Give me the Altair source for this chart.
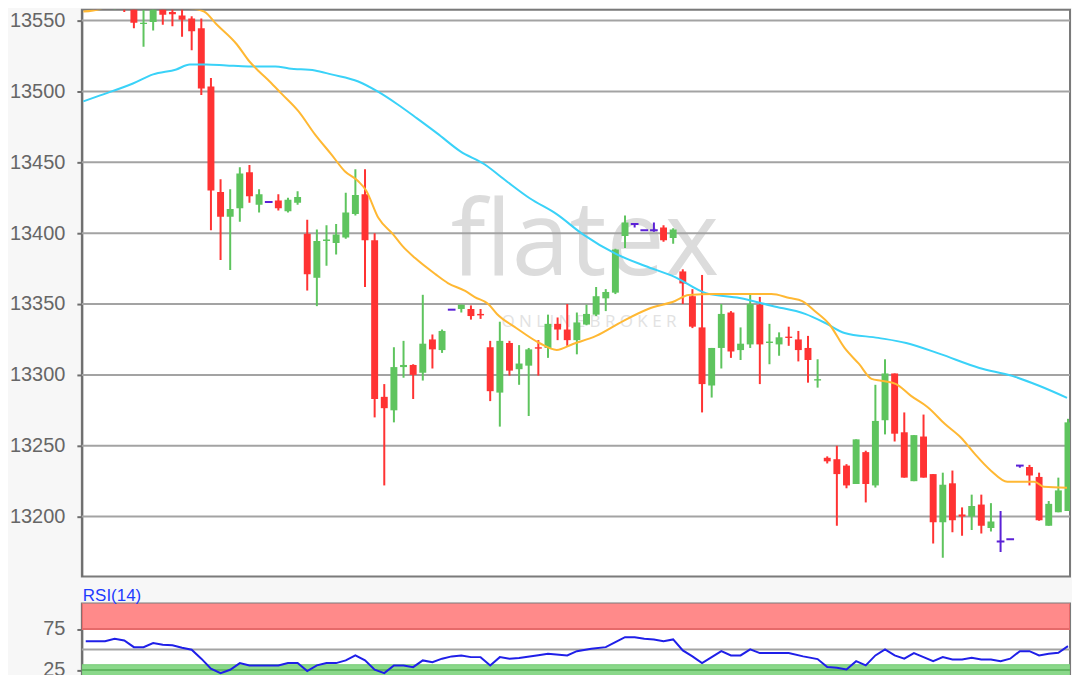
import altair as alt
import pandas as pd

# ---------------- candle data (index 0..102) ----------------
opens = [13559, 13560, 13561.5, 13560, 13570, 13566, 13547.5, 13549, 13565, 13556,
         13553.5, 13551.5, 13544.5, 13503.5, 13429, 13411.5, 13417.5, 13443, 13420, 13422,
         13423, 13415.5, 13421.5, 13399.5, 13368.5, 13394.5, 13393, 13397, 13413.5, 13427.5,
         13395, 13284.5, 13275, 13305.5, 13307, 13301.5, 13325, 13317.5, 13346, 13346.5,
         13346.5, 13343, 13319.5, 13287.5, 13322.5, 13304, 13306.5, 13319.5, 13319, 13336,
         13332, 13324.5, 13335.5, 13342.5, 13354, 13358, 13398, 13406.5, 13402, 13402,
         13404, 13396.5, 13373, 13355.5, 13333.5, 13292.5, 13319, 13344, 13317.5, 13321.5,
         13349.5, 13322.5, 13321.5, 13327, 13325, 13319, 13296, 13241.5, 13240.5, 13236,
         13223, 13245.5, 13222, 13268, 13301, 13259.5, 13225, 13256.5, 13230, 13196,
         13223.5, 13201.5, 13200, 13208.5, 13192, 13182.5, 13184, 13236, 13235, 13228,
         13193.5, 13203, 13204]
highs = [13559, 13562, 13563, 13567, 13572, 13570, 13557.5, 13566, 13568, 13566,
         13565, 13553, 13551.5, 13509.5, 13438, 13431, 13446.5, 13448, 13431, 13422,
         13427.5, 13425, 13429.5, 13409.5, 13402.5, 13405.5, 13406.5, 13428.5, 13445, 13445,
         13400, 13293.5, 13319.5, 13324, 13307.5, 13356.5, 13328.5, 13332, 13346, 13349.5,
         13349, 13346.5, 13324, 13337.5, 13324, 13321, 13319, 13324.5, 13342.5, 13340.5,
         13350, 13344, 13349.5, 13362, 13360.5, 13389, 13412.5, 13406.5, 13402, 13407.5,
         13405.5, 13403.5, 13374.5, 13360.5, 13370.5, 13319, 13350, 13345, 13333.5, 13357,
         13355, 13336, 13330, 13334, 13331, 13327.5, 13311, 13242.5, 13250, 13237,
         13254.5, 13246.5, 13293, 13311, 13301, 13273.5, 13257.5, 13272, 13230, 13231,
         13232.5, 13206.5, 13215.5, 13215.5, 13209.5, 13204, 13184, 13236, 13236.5, 13231,
         13211, 13227.5, 13269]
lows = [13559, 13557, 13558, 13557.5, 13556, 13544.5, 13531.5, 13543, 13547, 13546,
        13538.5, 13529, 13497.5, 13402, 13381, 13374, 13408, 13421.5, 13414.5, 13422,
        13416, 13414.5, 13420, 13359.5, 13348.5, 13377, 13385, 13396, 13412.5, 13362,
        13270, 13222, 13266.5, 13298, 13283, 13296, 13304.5, 13315.5, 13346, 13344,
        13339, 13339.5, 13281.5, 13263.5, 13299.5, 13293, 13271, 13299.5, 13312, 13324.5,
        13320.5, 13314.5, 13335, 13341.5, 13345, 13357, 13389.5, 13404, 13402, 13401,
        13394, 13392.5, 13350, 13333, 13273.5, 13284, 13304.5, 13312, 13310.5, 13319,
        13293.5, 13307.5, 13313.5, 13320.5, 13309.5, 13294.5, 13291, 13237.5, 13193.5, 13220,
        13223, 13210, 13220.5, 13258, 13253, 13227.5, 13225, 13227.5, 13181, 13171,
        13189, 13186.5, 13190.5, 13188, 13189.5, 13175, 13184, 13234.5, 13222, 13197,
        13193.5, 13203, 13204]
closes = [13559, 13560, 13558.5, 13565, 13564, 13548.5, 13548.5, 13560, 13554, 13554.5,
          13550.5, 13542.5, 13502, 13430, 13411.5, 13417, 13442, 13426, 13427.5, 13422,
          13417.5, 13423.5, 13425.5, 13371, 13394.5, 13395.5, 13399, 13414.5, 13427, 13395,
          13283, 13276.5, 13305.5, 13307, 13300, 13322, 13318, 13331, 13346, 13349.5,
          13341.5, 13342, 13288.5, 13324, 13303, 13308, 13318, 13318.5, 13336, 13332,
          13324.5, 13337, 13343, 13355.5, 13358.5, 13388.5, 13407.5, 13406.5, 13402, 13402,
          13395, 13402.5, 13364.5, 13334, 13293.5, 13319, 13343, 13316.5, 13322, 13350,
          13321.5, 13323.5, 13326.5, 13326, 13317.5, 13310.5, 13297, 13239, 13230, 13222,
          13254.5, 13223, 13267.5, 13301, 13258.5, 13227.5, 13257.5, 13227.5, 13196, 13222.5,
          13197.5, 13200, 13207.5, 13193.5, 13196.5, 13182.5, 13184, 13236, 13229, 13197.5,
          13209, 13218.5, 13266.5]

# ---------------- moving averages ----------------
fast_idx = [-0.25, 1.5, 3.3, 4.5, 6.0, 7.8, 10.9, 12.3, 13.6, 15.7, 17.0, 18.0, 19.1, 20.3,
            22.1, 23.8, 25.5, 26.9, 28.3, 29.1, 30.4, 31.9, 32.9, 34.2, 36.3, 37.6, 39.4,
            40.4, 41.8, 42.7, 44.7, 47.1, 48.9, 50.6, 53.0, 55.8, 58.4, 61.2, 62.6, 65.3,
            71.2, 73.1, 74.4, 75.7, 77.2, 78.8, 80.3, 81.6, 82.6, 84.1, 85.7, 87.5, 89.2,
            90.9, 92.3, 94.0, 95.7, 98.5, 99.5, 101.9]
fast_val = [13556.3, 13558.2, 13563.4, 13565, 13565, 13559.9, 13558.7, 13556.3, 13547.2,
            13533.1, 13521.1, 13514.1, 13507, 13498.6, 13485.9, 13469.7, 13455.6, 13443.7,
            13436.6, 13430.3, 13410.6, 13399.3, 13390.8, 13382.4, 13371.1, 13364.8, 13359.2,
            13354.9, 13350, 13343, 13333.1, 13322.5, 13317.6, 13321.8, 13327.5, 13338,
            13346.5, 13352.1, 13356.3, 13357, 13357, 13354.2, 13352.1, 13345.1, 13335.9,
            13319, 13307.7, 13297.2, 13295.8, 13293.7, 13285.2, 13276.8, 13265.5, 13255.6,
            13244.4, 13232.4, 13224.6, 13224.6, 13221.1, 13220.4]
slow_idx = [-0.25, 1.5, 4.9, 7.0, 9.4, 10.8, 12.5, 14.6, 16.9, 19.7, 21.1, 23.8, 25.5, 28.3,
            30.3, 32.4, 34.4, 36.5, 38.9, 41.4, 43.7, 46.1, 48.9, 51.6, 55.1, 58.1, 61.2,
            64.4, 67.9, 71.3, 74.7, 76.8, 78.8, 82.3, 85.2, 88.7, 92.8, 96.2, 99.0, 101.9]
slow_val = [13493, 13497.2, 13505.6, 13512, 13515.5, 13519, 13519, 13518.3, 13517.6, 13517.6,
            13516.2, 13514.8, 13512, 13507, 13500, 13490.8, 13481, 13470.4, 13457.7, 13448.6,
            13436.6, 13424.6, 13413.4, 13399.3, 13385.2, 13376.8, 13369, 13357.7, 13354.2,
            13348.6, 13343, 13336.6, 13329.6, 13326.1, 13322.5, 13314.8, 13304.9, 13299.3,
            13292.3, 13283.8]

# ---------------- RSI(14) ----------------
rsi_idx = [0, 2, 3, 4, 5, 6, 7, 8, 9, 10, 11, 12, 13, 14, 15, 16, 17, 18, 20, 21, 22, 23, 24,
           25, 26, 27, 28, 29, 30, 31, 32, 33, 34, 35, 36, 37, 38, 39, 40, 41, 42, 43, 44, 45,
           47, 48, 50, 51, 52.5, 54, 55, 56, 57, 58, 59, 60, 61, 62, 63, 64, 65, 66, 67, 68,
           69, 70, 71.6, 73, 74.5, 76, 77, 78, 79, 80, 81, 82, 83, 84, 85, 86, 87, 88, 89, 90,
           91, 92, 93, 94, 95, 96, 97, 98, 99, 100, 101, 102]
rsi_val = [60.1, 60.1, 63.0, 61.0, 52.8, 52.8, 57.7, 55.7, 55.2, 52.1, 49.6, 38.7, 26.5, 21.1,
           25.2, 33.3, 30.5, 30.5, 30.5, 33.3, 33.3, 23.5, 30.5, 33.3, 33.3, 36.6, 42.7, 36.6,
           25.2, 21.1, 30.5, 30.5, 28.4, 36.6, 34.5, 38.7, 41.5, 42.7, 40.6, 40.6, 30.5, 40.6,
           38.7, 39.4, 43.0, 44.8, 42.7, 47.9, 50.8, 52.8, 58.9, 65.0, 65.0, 63.0, 62.2, 60.1,
           62.2, 48.8, 41.5, 33.3, 40.6, 47.9, 42.7, 42.7, 50.0, 45.5, 45.5, 45.5, 41.5, 38.2,
           28.4, 27.7, 25.6, 35.7, 30.5, 42.7, 50.0, 42.7, 38.7, 45.5, 40.6, 35.7, 40.6, 37.8,
           37.8, 39.9, 37.8, 37.8, 35.7, 38.7, 47.9, 47.9, 42.7, 44.8, 46.0, 54.0]

price_ticks = [13200, 13250, 13300, 13350, 13400, 13450, 13500, 13550]
rsi_ticks = [25, 75]
rsi_mid = [50]
over_band = [75, 120]
under_band = [0, 31.3]

# ---------------- frames ----------------
df = pd.DataFrame({"i": list(range(len(opens))), "open": opens, "high": highs,
                   "low": lows, "close": closes})
df["dir"] = ["up" if c > o else ("down" if c < o else "flat") for o, c in zip(opens, closes)]
fast_df = pd.DataFrame({"i": fast_idx, "v": fast_val})
slow_df = pd.DataFrame({"i": slow_idx, "v": slow_val})
rsi_df = pd.DataFrame({"i": rsi_idx, "v": rsi_val})
grid_df = pd.DataFrame({"g": price_ticks})

W = 990
xs = alt.Scale(domain=[-0.404, 102.21], nice=False, zero=False)
ys = alt.Scale(domain=[13157.7, 13557.7], nice=False, zero=False)
FONT = "Liberation Sans"


def yax(vals):
    return alt.Axis(values=vals, format="d", grid=False, title=None, domainColor="#6e6e6e",
                    domainWidth=2, tickColor="#6e6e6e", tickSize=5, tickWidth=2,
                    labelFontSize=20, labelColor="#666666", labelFont=FONT,
                    labelPadding=12, minExtent=72, maxExtent=72)


yaxis = yax(price_ticks)
col = alt.Color("dir:N", legend=None,
                scale=alt.Scale(domain=["up", "down", "flat"],
                                range=["#5ec45e", "#ff3333", "#5b21d6"]))

# watermark
wm = alt.Chart(pd.DataFrame({"t": ["flatex"]})).mark_text(
    font="Open Sans", fontSize=104, color="#dcdcdc", align="center", baseline="alphabetic"
).encode(x=alt.value(504), y=alt.value(266), text="t:N")
wm2 = alt.Chart(pd.DataFrame({"t": ["O   N   L   I   N   E      B   R   O   K   E   R"]})).mark_text(
    font="Open Sans", fontSize=17, color="#e2e2e2", align="center", baseline="top"
).encode(x=alt.value(508), y=alt.value(305), text="t:N")

grid = alt.Chart(grid_df).mark_rule(color="#a3a3a3", strokeWidth=2).encode(
    y=alt.Y("g:Q", scale=ys, axis=yaxis))

base = alt.Chart(df)
wick = base.mark_rule(strokeWidth=2, clip=True).encode(
    x=alt.X("i:Q", scale=xs, axis=None),
    y=alt.Y("low:Q", scale=ys, axis=yaxis), y2="high:Q", color=col)
body = base.transform_filter("datum.dir != 'flat'").transform_calculate(
    x1="datum.i - 0.36", x2="datum.i + 0.36").mark_rect(clip=True).encode(
    x=alt.X("x1:Q", scale=xs, axis=None), x2="x2:Q",
    y=alt.Y("open:Q", scale=ys, axis=yaxis), y2="close:Q", color=col)
doji = base.transform_filter("datum.dir == 'flat'").transform_calculate(
    x1="datum.i - 0.4", x2="datum.i + 0.4").mark_rule(strokeWidth=2, clip=True).encode(
    x=alt.X("x1:Q", scale=xs, axis=None), x2="x2:Q",
    y=alt.Y("close:Q", scale=ys, axis=yaxis), color=col)

fast = alt.Chart(fast_df).mark_line(color="#ffb833", strokeWidth=2, clip=True,
                                     interpolate="monotone").encode(
    x=alt.X("i:Q", scale=xs, axis=None), y=alt.Y("v:Q", scale=ys, axis=yaxis))
slow = alt.Chart(slow_df).mark_line(color="#3ad2f8", strokeWidth=2, clip=True,
                                     interpolate="monotone").encode(
    x=alt.X("i:Q", scale=xs, axis=None), y=alt.Y("v:Q", scale=ys, axis=yaxis))

main = alt.layer(wm, wm2, grid, wick, body, doji, slow, fast).properties(width=W, height=568)

# ---------------- RSI panel ----------------
ry = alt.Scale(domain=[18.3, 106.1], nice=False, zero=False)
raxis = yax(rsi_ticks)
over = alt.Chart(pd.DataFrame({"lo": [over_band[0]], "hi": [over_band[1]]})).mark_rect(
    clip=True, fill="#ff8a8a", stroke="#e66a6a", strokeWidth=2).encode(
    x=alt.value(0), x2=alt.value(W), y=alt.Y("lo:Q", scale=ry, axis=raxis), y2="hi:Q")
under = alt.Chart(pd.DataFrame({"lo": [under_band[0]], "hi": [under_band[1]]})).mark_rect(
    clip=True, fill="#8ad88a", stroke="#76cc76", strokeWidth=1).encode(
    x=alt.value(0), x2=alt.value(W), y=alt.Y("lo:Q", scale=ry, axis=raxis), y2="hi:Q")
line25 = alt.Chart(pd.DataFrame({"v": [rsi_ticks[0]]})).mark_rule(
    color="#62b862", strokeWidth=2).encode(y=alt.Y("v:Q", scale=ry, axis=raxis))
mid = alt.Chart(pd.DataFrame({"v": rsi_mid})).mark_rule(
    color="#a3a3a3", strokeWidth=2).encode(y=alt.Y("v:Q", scale=ry, axis=raxis))
rsi_line = alt.Chart(rsi_df).mark_line(color="#1f1fe8", strokeWidth=2, clip=True).encode(
    x=alt.X("i:Q", scale=xs, axis=None), y=alt.Y("v:Q", scale=ry, axis=raxis))
rsi_lbl = alt.Chart(pd.DataFrame({"t": ["RSI(14)"]})).mark_text(
    font=FONT, fontSize=17, color="#1f3cff", align="left", baseline="alphabetic"
).encode(x=alt.value(1), y=alt.value(-3), text="t:N")

rsi = alt.layer(over, under, line25, mid, rsi_line, rsi_lbl).properties(width=W, height=72)

chart = alt.vconcat(main, rsi, spacing=27, bounds="flush").properties(
    padding=0, background="#f7f7f7"
).configure_view(stroke="#7a7a7a", strokeWidth=2, fill="white")

chart.save("out.html", embed_options={"renderer": "svg", "actions": False})
